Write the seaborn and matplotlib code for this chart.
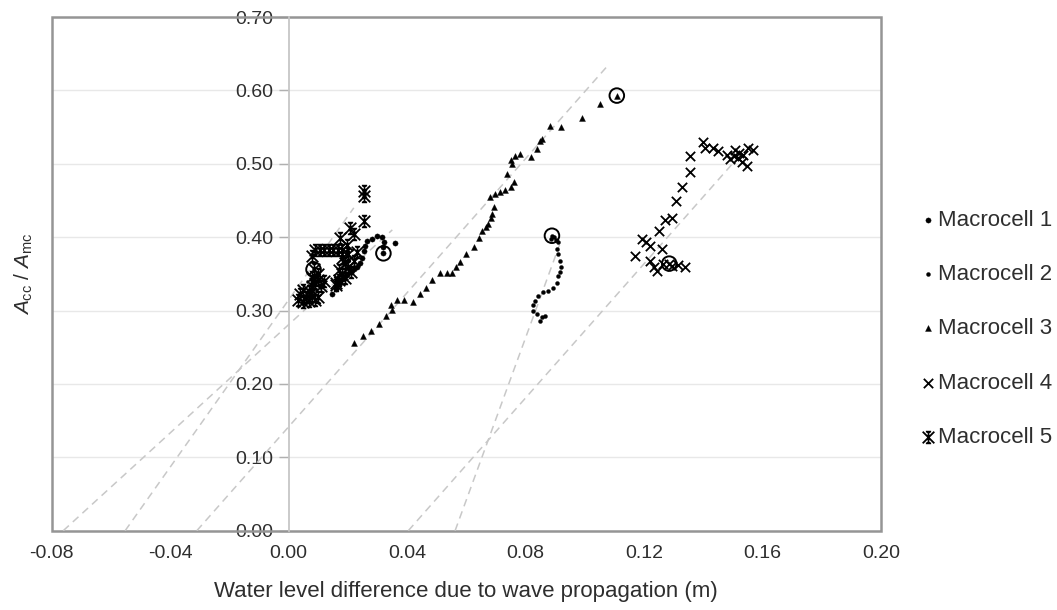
import matplotlib
matplotlib.use("Agg")
import matplotlib.pyplot as plt
import seaborn as sns
import pandas as pd
from matplotlib.path import Path
from matplotlib.patches import Rectangle

# ---------------- data ----------------
m1_x = [0.0146, 0.0160, 0.0172, 0.0185, 0.0198, 0.0210, 0.0222, 0.0232, 0.0241, 0.0247,
        0.0253, 0.0258, 0.0264, 0.0281, 0.0298, 0.0315, 0.0322, 0.0318, 0.0320, 0.0360]
m1_y = [0.323, 0.330, 0.337, 0.343, 0.348, 0.352, 0.356, 0.360, 0.365, 0.372,
        0.381, 0.388, 0.395, 0.398, 0.402, 0.400, 0.393, 0.386, 0.378, 0.392]

m2_x = [0.0889, 0.0885, 0.0895, 0.0902, 0.0911, 0.0905, 0.0911, 0.0917, 0.0919, 0.0915,
        0.0911, 0.0905, 0.0894, 0.0877, 0.0860, 0.0843, 0.0832, 0.0824, 0.0826, 0.0838,
        0.0866, 0.0855, 0.0849]
m2_y = [0.402, 0.398, 0.400, 0.396, 0.393, 0.384, 0.377, 0.368, 0.359, 0.353,
        0.347, 0.338, 0.331, 0.327, 0.325, 0.320, 0.313, 0.307, 0.300, 0.295,
        0.293, 0.291, 0.286]

m3_x = [0.0219, 0.0250, 0.0277, 0.0305, 0.0329, 0.0349, 0.0345, 0.0367, 0.0391, 0.0421,
        0.0442, 0.0465, 0.0485, 0.0510, 0.0534, 0.0553, 0.0564, 0.0580, 0.0598, 0.0625,
        0.0643, 0.0654, 0.0665, 0.0673, 0.0683, 0.0688, 0.0692, 0.0681, 0.0698, 0.0712,
        0.0729, 0.0752, 0.0760, 0.0737, 0.0755, 0.0752, 0.0763, 0.0780, 0.0818, 0.0838,
        0.0850, 0.0857, 0.0881, 0.0921, 0.0990, 0.1052, 0.1108]
m3_y = [0.256, 0.265, 0.272, 0.282, 0.292, 0.301, 0.307, 0.315, 0.315, 0.312,
        0.323, 0.331, 0.341, 0.351, 0.351, 0.351, 0.359, 0.366, 0.377, 0.386,
        0.399, 0.408, 0.414, 0.418, 0.426, 0.432, 0.441, 0.455, 0.459, 0.461,
        0.464, 0.469, 0.475, 0.486, 0.500, 0.505, 0.511, 0.513, 0.509, 0.520,
        0.531, 0.534, 0.551, 0.550, 0.563, 0.581, 0.593]

m4_x = [0.1170, 0.1192, 0.1205, 0.1220, 0.1243, 0.1232, 0.1220, 0.1260, 0.1265, 0.1285,
        0.1294, 0.1316, 0.1339, 0.1252, 0.1271, 0.1294, 0.1307, 0.1327, 0.1355, 0.1355,
        0.1398, 0.1406, 0.1434, 0.1451, 0.1479, 0.1491, 0.1507, 0.1519, 0.1535, 0.1552,
        0.1569, 0.1547, 0.1530, 0.1502, 0.1518]
m4_y = [0.375, 0.397, 0.393, 0.368, 0.354, 0.359, 0.388, 0.384, 0.363, 0.364,
        0.361, 0.362, 0.359, 0.408, 0.424, 0.426, 0.450, 0.468, 0.489, 0.510,
        0.530, 0.521, 0.522, 0.517, 0.512, 0.507, 0.519, 0.515, 0.512, 0.521,
        0.519, 0.497, 0.503, 0.510, 0.508]

m5_x = [0.003, 0.004, 0.005, 0.006, 0.007, 0.008, 0.009, 0.010, 0.005, 0.007,
        0.008, 0.009, 0.010, 0.008, 0.011, 0.010, 0.012,
        0.009, 0.0105, 0.012, 0.0135, 0.015, 0.0165, 0.018,
        0.008,
        0.016, 0.017, 0.018, 0.019, 0.017, 0.020, 0.021, 0.019, 0.022, 0.018, 0.020, 0.023, 0.016,
        0.0174, 0.0197, 0.0208, 0.0219, 0.0253, 0.0253, 0.0253,
        0.0084]
m5_y = [0.315, 0.322, 0.312, 0.318, 0.313, 0.320, 0.315, 0.318, 0.328, 0.326,
        0.333, 0.338, 0.342, 0.346, 0.334, 0.350, 0.340,
        0.383, 0.383, 0.383, 0.383, 0.383, 0.383, 0.383,
        0.375,
        0.335, 0.342, 0.350, 0.345, 0.355, 0.360, 0.352, 0.365, 0.368, 0.372, 0.377, 0.380, 0.338,
        0.399, 0.390, 0.413, 0.404, 0.422, 0.456, 0.463,
        0.356]

# highlighted (circled) points
circ_x = [0.0320, 0.0889, 0.1108, 0.1285, 0.0084]
circ_y = [0.378, 0.402, 0.593, 0.364, 0.356]

# dashed trend lines (start / end points)
trend_x0 = [-0.0761, -0.0552, -0.031, 0.0404, 0.0562]
trend_y0 = [0.0, 0.0, 0.0, 0.0, 0.0]
trend_x1 = [0.035, 0.022, 0.108, 0.152, 0.0915]
trend_y1 = [0.41, 0.44, 0.635, 0.51, 0.39]

labels = ["Macrocell 1", "Macrocell 2", "Macrocell 3", "Macrocell 4", "Macrocell 5"]
x_ticks = [-0.08, -0.04, 0.00, 0.04, 0.08, 0.12, 0.16, 0.20]
y_ticks = [0.00, 0.10, 0.20, 0.30, 0.40, 0.50, 0.60, 0.70]

# ---------------- style ----------------
sns.set_theme(style="white")
plt.rcParams["font.family"] = ["Liberation Sans", "DejaVu Sans"]
plt.rcParams["mathtext.fontset"] = "custom"
plt.rcParams["mathtext.rm"] = "Liberation Sans"
plt.rcParams["mathtext.it"] = "Liberation Sans:italic"

txt = "#2e2e2e"

# star marker (X + vertical bar with caps), like Excel's star
star = Path(
    [(-1, -1), (1, 1), (-1, 1), (1, -1), (0, -1), (0, 1),
     (-0.45, 1), (0.45, 1), (-0.45, -1), (0.45, -1)],
    [Path.MOVETO, Path.LINETO] * 5,
)

fig = plt.figure(figsize=(10.57, 6.10), dpi=100)
ax = fig.add_axes([0.0489, 0.130, 0.7846, 0.842])

# trend lines
for x0, y0, x1, y1 in zip(trend_x0, trend_y0, trend_x1, trend_y1):
    sns.lineplot(x=[x0, x1], y=[y0, y1], ax=ax, color="#c8c8c8", lw=1.1,
                 linestyle=(0, (5, 3.5)), sort=False, estimator=None, zorder=2)

# series
sns.scatterplot(x=m1_x, y=m1_y, ax=ax, marker="o", s=14, color="black",
                edgecolor="black", linewidth=0.3, label=labels[0], zorder=4)
sns.scatterplot(x=m2_x, y=m2_y, ax=ax, marker="o", s=8, color="black",
                edgecolor="black", linewidth=0.3, label=labels[1], zorder=4)
sns.scatterplot(x=m3_x, y=m3_y, ax=ax, marker="^", s=18, color="black",
                edgecolor="black", linewidth=0.3, label=labels[2], zorder=4)
sns.scatterplot(x=m4_x, y=m4_y, ax=ax, marker="x", s=45, color="black",
                linewidth=1.3, label=labels[3], zorder=4)
sns.scatterplot(x=m5_x, y=m5_y, ax=ax, marker=star, s=70, color="black",
                edgecolor="black", linewidth=1.3, label=labels[4], zorder=4)

# circled points
sns.scatterplot(x=circ_x, y=circ_y, ax=ax, marker="o", s=110, facecolor="none",
                edgecolor="black", linewidth=1.4, zorder=5, legend=False)

# axes
ax.set_xlim(-0.08, 0.20)
ax.set_ylim(0.0, 0.70)
ax.set_xticks(x_ticks)
ax.set_xticklabels([f"{v:.2f}" for v in x_ticks])
ax.set_yticks(y_ticks)
ax.set_yticklabels([f"{v:.2f}" for v in y_ticks])

ax.yaxis.grid(True, color="#e8e8e8", lw=1.0)
ax.xaxis.grid(False)
ax.set_axisbelow(True)

for s in ["top", "right", "bottom"]:
    ax.spines[s].set_visible(False)
ax.spines["left"].set_position(("data", 0.0))
ax.spines["left"].set_color("#c6c6c6")
ax.spines["left"].set_linewidth(1.3)

ax.add_patch(Rectangle((0, 0), 1, 1, transform=ax.transAxes, fill=False,
                       edgecolor="#959595", lw=1.8, zorder=1, clip_on=False))

ax.tick_params(axis="y", direction="out", length=7, width=1.0, color="#b0b0b0",
               pad=4, labelsize=14, labelcolor=txt, left=True)
ax.tick_params(axis="x", length=0, pad=10, labelsize=14, labelcolor=txt)

ax.set_ylabel(r"$A_{\mathrm{cc}}$ / $A_{\mathrm{mc}}$", fontsize=15, color=txt)
ax.yaxis.set_label_coords(-0.02, 0.5)
ax.set_xlabel("Water level difference due to wave propagation (m)", fontsize=16,
              color=txt, labelpad=14)

ax.legend(loc="center left", bbox_to_anchor=(0.8595, 0.461), bbox_transform=fig.transFigure,
          frameon=False, fontsize=16, handletextpad=0.05, handlelength=0.8,
          labelspacing=1.5, borderpad=0, labelcolor=txt)

fig.savefig("out.png", dpi=100)
